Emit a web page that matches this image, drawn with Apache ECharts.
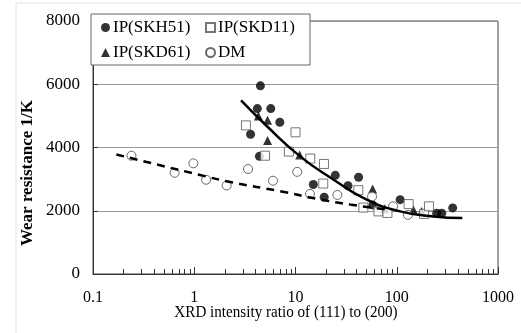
<!DOCTYPE html>
<html>
<head>
<meta charset="utf-8">
<script src="https://cdn.jsdelivr.net/npm/echarts@6/dist/echarts.min.js"></script>
<style>html,body{margin:0;padding:0;background:#fff;}#c{width:521px;height:333px;}</style>
</head>
<body>
<div id="c"></div>
<script>
const seriesNames = ['IP(SKH51)', 'IP(SKD11)', 'IP(SKD61)', 'DM'];
const skh51 = [[4.5,5950],[4.2,5230],[5.7,5230],[7.0,4800],[3.6,4420],[4.4,3720],[15,2830],[19.2,2430],[24.7,3120],[33,2790],[42,3060],[58,2180],[108,2350],[248,1920],[278,1920],[357,2090]];
const skd11 = [[3.24,4700],[5.0,3740],[8.6,3870],[10,4480],[14,3650],[19.1,3480],[18.8,2860],[41.7,2650],[46.8,2100],[66,1980],[81,1930],[131,2210],[186,1900],[208,2140]];
const skd61 = [[4.3,5000],[5.3,4860],[5.3,4220],[11,3760],[57.8,2690],[76,2060],[146,2030],[176,1980]];
const dm = [[0.24,3740],[0.64,3200],[0.98,3500],[1.31,2980],[2.09,2800],[3.4,3320],[6.0,2950],[10.4,3230],[13.9,2530],[25.9,2500],[57,2450],[92,2140],[129,1870]];
const ipFit = [[2.9,5490],[5.2,4680],[11.1,3720],[23.6,2990],[50.5,2350],[108,1980],[230,1820],[444,1770]];
const dmFit = [[0.17,3780],[1.14,3130],[2.42,2890],[7.0,2620],[17.4,2360],[37.3,2180],[79,2040]];
const minorTicks = [0.2,0.3,0.4,0.5,0.6,0.7,0.8,0.9,2,3,4,5,6,7,8,9,20,30,40,50,60,70,80,90,200,300,400,500,600,700,800,900];
const xTitle = 'XRD intensity ratio of (111) to (200)';
const yTitle = 'Wear resistance 1/K';

const font = '"Liberation Serif", "DejaVu Serif", serif';
const chart = echarts.init(document.getElementById('c'), null, {renderer: 'canvas'});
const baseGraphics = [
  {type: 'rect', shape: {x: 16, y: 3, width: 510, height: 340}, style: {fill: 'none', stroke: '#e6e6e6', lineWidth: 1}, silent: true, z: -10},
  {type: 'text', x: 286, y: 313, scaleX: 0.89, style: {text: xTitle, font: '17px ' + font, fill: '#000', align: 'center', verticalAlign: 'middle'}},
  {type: 'text', x: 28, y: 173, rotation: Math.PI / 2, style: {text: yTitle, font: 'bold 17px ' + font, fill: '#000', align: 'center', verticalAlign: 'middle'}}
];
chart.setOption({
  animation: false,
  backgroundColor: '#fff',
  grid: {left: 93, right: 23, top: 21, bottom: 59, show: true, borderColor: '#444', borderWidth: 1, backgroundColor: 'transparent'},
  xAxis: {
    type: 'log', logBase: 10, min: 0.1, max: 1000,
    axisLine: {lineStyle: {color: '#333', width: 1}},
    axisTick: {inside: true, length: 7, lineStyle: {color: '#333'}},
    axisLabel: {color: '#000', fontFamily: font, fontSize: 16, margin: 16, formatter: v => String(v)},
    splitLine: {show: false}
  },
  yAxis: {
    type: 'value', min: 0, max: 8000, interval: 2000,
    axisLine: {show: true, lineStyle: {color: '#333', width: 1}},
    axisTick: {show: true, inside: true, length: 5, lineStyle: {color: '#333'}},
    axisLabel: {color: '#000', fontFamily: font, fontSize: 17, margin: 13, formatter: v => String(v)},
    splitLine: {show: true, lineStyle: {color: '#999', width: 1}}
  },
  legend: {
    data: seriesNames,
    left: 91, top: 14, width: 210,
    orient: 'horizontal',
    padding: [5, 8, 4, 10],
    itemGap: 8,
    itemWidth: 9, itemHeight: 9,
    backgroundColor: '#fff', borderColor: '#666', borderWidth: 1, borderRadius: 0,
    textStyle: {color: '#000', fontFamily: font, fontSize: 17, lineHeight: 14, width: 84, padding: [0,0,0,-2]},
    z: 10
  },
  graphic: baseGraphics,
  series: [
    {name: seriesNames[0], type: 'scatter', data: skh51, symbol: 'circle', symbolSize: 9, itemStyle: {color: '#000'}, z: 2},
    {name: seriesNames[2], type: 'scatter', data: skd61, symbol: 'triangle', symbolSize: 9, itemStyle: {color: '#000'}, z: 3},
    {name: seriesNames[1], type: 'scatter', data: skd11, symbol: 'rect', symbolSize: 9, itemStyle: {color: '#fff', borderColor: '#555', borderWidth: 1}, z: 4},
    {name: seriesNames[3], type: 'scatter', data: dm, symbol: 'circle', symbolSize: 9, itemStyle: {color: '#fff', borderColor: '#444', borderWidth: 1}, z: 5},
    {name: 'ipFit', type: 'line', data: ipFit, smooth: true, showSymbol: false, symbol: 'none', lineStyle: {color: '#000', width: 2.5}, z: 6, silent: true},
    {name: 'dmFit', type: 'line', data: dmFit, smooth: true, showSymbol: false, symbol: 'none', lineStyle: {color: '#000', width: 2.5, type: [8, 6]}, z: 6, silent: true}
  ]
});
// minor ticks on the log axis, positioned through the chart's own scale
const tickGraphics = minorTicks.map(v => {
  const p = chart.convertToPixel({gridIndex: 0}, [v, 0]);
  const x = Math.round(p[0]) + 0.5;
  return {type: 'line', shape: {x1: x, y1: p[1], x2: x, y2: p[1] - 5}, style: {stroke: '#333', lineWidth: 1}, silent: true, z: 20};
});
chart.setOption({graphic: baseGraphics.concat(tickGraphics)});
</script>
</body>
</html>
